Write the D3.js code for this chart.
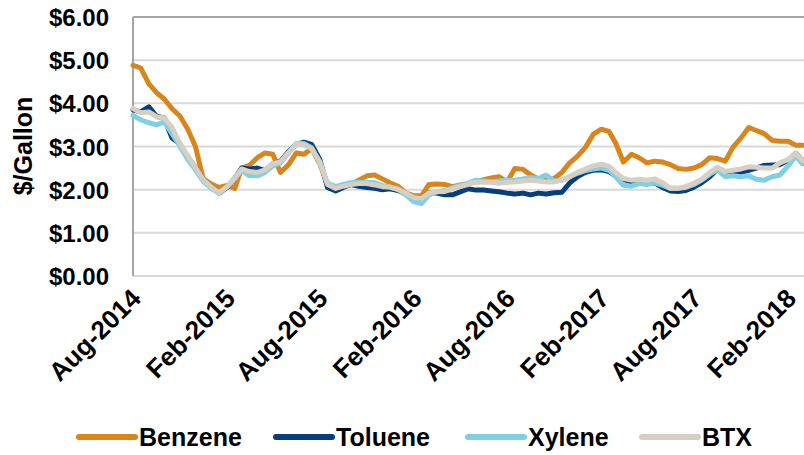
<!DOCTYPE html>
<html>
<head>
<meta charset="utf-8">
<script src="https://cdn.jsdelivr.net/npm/d3@7"></script>
<style>
  body { margin: 0; background: #fff; }
  svg { display: block; font-family: "Liberation Sans", Arial, sans-serif; font-weight: bold; }
</style>
</head>
<body>
<div id="chart"></div>
<script>
// half-monthly sample dates
const dates = [
  "2014-08-01","2014-08-16","2014-09-01","2014-09-16","2014-10-01","2014-10-16","2014-11-01","2014-11-16",
  "2014-12-01","2014-12-16","2015-01-01","2015-01-16","2015-02-01","2015-02-16","2015-03-01","2015-03-16",
  "2015-04-01","2015-04-16","2015-05-01","2015-05-16","2015-06-01","2015-06-16","2015-07-01","2015-07-16",
  "2015-08-01","2015-08-16","2015-09-01","2015-09-16","2015-10-01","2015-10-16","2015-11-01","2015-11-16",
  "2015-12-01","2015-12-16","2016-01-01","2016-01-16","2016-02-01","2016-02-16","2016-03-01","2016-03-16",
  "2016-04-01","2016-04-16","2016-05-01","2016-05-16","2016-06-01","2016-06-16","2016-07-01","2016-07-16",
  "2016-08-01","2016-08-16","2016-09-01","2016-09-16","2016-10-01","2016-10-16","2016-11-01","2016-11-16",
  "2016-12-01","2016-12-16","2017-01-01","2017-01-16","2017-02-01","2017-02-16","2017-03-01","2017-03-16",
  "2017-04-01","2017-04-16","2017-05-01","2017-05-16","2017-06-01","2017-06-16","2017-07-01","2017-07-16",
  "2017-08-01","2017-08-16","2017-09-01","2017-09-16","2017-10-01","2017-10-16","2017-11-01","2017-11-16",
  "2017-12-01","2017-12-16","2018-01-01","2018-01-16","2018-02-01","2018-02-16","2018-03-01"
];

const benzene = [
  4.88,4.82,4.45,4.25,4.10,3.88,3.70,3.40,3.00,2.26,2.13,2.05,2.10,2.03,2.50,2.56,
  2.74,2.85,2.82,2.40,2.58,2.85,2.82,2.95,2.60,2.12,2.05,2.08,2.12,2.22,2.32,2.34,
  2.25,2.16,2.08,1.92,1.86,1.86,2.12,2.13,2.12,2.07,2.11,2.14,2.18,2.23,2.27,2.30,
  2.18,2.49,2.47,2.34,2.25,2.22,2.26,2.40,2.62,2.77,2.98,3.28,3.40,3.35,3.08,2.64,
  2.82,2.74,2.62,2.66,2.64,2.58,2.49,2.47,2.50,2.58,2.74,2.72,2.66,2.98,3.20,3.44,
  3.37,3.30,3.14,3.12,3.12,3.03,3.03
];

const toluene = [
  3.85,3.80,3.92,3.70,3.66,3.20,3.05,2.75,2.52,2.24,2.06,1.92,2.05,2.26,2.50,2.48,
  2.50,2.44,2.60,2.66,2.88,3.05,3.10,3.05,2.70,2.05,1.97,2.05,2.12,2.08,2.05,2.03,
  2.00,2.02,1.98,1.90,1.82,1.80,1.92,1.92,1.88,1.88,1.95,2.02,1.99,1.99,1.97,1.95,
  1.92,1.90,1.92,1.88,1.92,1.90,1.93,1.94,2.15,2.30,2.40,2.45,2.46,2.42,2.32,2.24,
  2.18,2.20,2.14,2.16,2.05,1.97,1.96,1.98,2.06,2.16,2.30,2.48,2.35,2.38,2.40,2.45,
  2.50,2.56,2.57,2.58,2.68,2.84,2.68
];

const xylene = [
  3.72,3.62,3.55,3.50,3.57,3.30,3.00,2.70,2.46,2.20,2.03,1.92,2.07,2.28,2.45,2.32,
  2.32,2.40,2.55,2.62,2.85,3.07,3.07,2.97,2.62,2.15,2.07,2.12,2.16,2.17,2.17,2.16,
  2.10,2.06,2.00,1.88,1.72,1.68,1.88,1.95,1.98,2.04,2.10,2.14,2.22,2.20,2.18,2.20,
  2.22,2.22,2.25,2.28,2.26,2.34,2.20,2.22,2.30,2.38,2.44,2.48,2.50,2.45,2.30,2.10,
  2.08,2.14,2.12,2.16,2.10,2.03,2.03,2.05,2.12,2.22,2.36,2.46,2.30,2.32,2.30,2.32,
  2.24,2.22,2.30,2.34,2.55,2.78,2.60
];

const btx = [
  3.88,3.78,3.80,3.69,3.66,3.45,3.06,2.78,2.52,2.24,2.06,1.93,2.07,2.26,2.48,2.42,
  2.40,2.46,2.60,2.65,2.86,3.05,3.04,2.95,2.65,2.12,2.03,2.08,2.12,2.14,2.14,2.11,
  2.07,2.06,2.01,1.92,1.82,1.80,1.92,1.95,1.96,2.02,2.07,2.12,2.18,2.17,2.17,2.15,
  2.17,2.18,2.20,2.22,2.20,2.18,2.18,2.22,2.30,2.40,2.48,2.55,2.59,2.54,2.40,2.26,
  2.22,2.24,2.22,2.25,2.16,2.03,2.03,2.07,2.15,2.24,2.40,2.52,2.42,2.45,2.48,2.53,
  2.52,2.50,2.50,2.62,2.70,2.84,2.68
];

const seriesNames = ["Benzene", "Toluene", "Xylene", "BTX"];
const seriesColors = ["#D8861C", "#073F7E", "#7FD0E3", "#D7CFC3"];
const yTicks = [0, 1, 2, 3, 4, 5, 6];
const xTickDates = ["2014-08-01","2015-02-01","2015-08-01","2016-02-01","2016-08-01","2017-02-01","2017-08-01","2018-02-01"];

const w = 804, h = 455;
const margin = { top: 17, right: 0, bottom: 179, left: 133 };

const parse = d3.timeParse("%Y-%m-%d");
const fmt = d3.timeFormat("%b-%Y");

const svg = d3.select("#chart").append("svg")
    .attr("width", w)
    .attr("height", h);

const x = d3.scaleTime()
    .domain([new Date(2014, 7, 1), new Date(2018, 2, 4)])
    .range([margin.left, w - margin.right]);

const y = d3.scaleLinear()
    .domain([0, 6])
    .range([h - margin.bottom, margin.top]);

// gridlines
svg.append("g")
    .selectAll("line")
    .data(yTicks.filter(d => d > 0 && d < 6))
    .join("line")
    .attr("x1", margin.left)
    .attr("x2", w - margin.right)
    .attr("y1", d => y(d))
    .attr("y2", d => y(d))
    .attr("stroke", "#D9D9D9")
    .attr("stroke-width", 2);

// plot frame
svg.append("line")
    .attr("x1", margin.left).attr("x2", w)
    .attr("y1", y(6)).attr("y2", y(6))
    .attr("stroke", "#A6A6A6").attr("stroke-width", 2);
svg.append("line")
    .attr("x1", margin.left).attr("x2", w)
    .attr("y1", y(0)).attr("y2", y(0))
    .attr("stroke", "#D9D9D9").attr("stroke-width", 2);
svg.append("line")
    .attr("x1", margin.left).attr("x2", margin.left)
    .attr("y1", y(6)).attr("y2", y(0))
    .attr("stroke", "#A6A6A6").attr("stroke-width", 2);

// y axis labels
const yAxis = d3.axisLeft(y)
    .tickValues(yTicks)
    .tickSize(0)
    .tickPadding(24)
    .tickFormat(d => "$" + d3.format(".2f")(d));

svg.append("g")
    .attr("transform", `translate(${margin.left},0)`)
    .call(yAxis)
    .call(g => g.select(".domain").remove())
    .selectAll("text")
    .attr("font-family", "Liberation Sans, Arial, sans-serif")
    .attr("font-weight", "bold")
    .attr("font-size", 24)
    .attr("fill", "#000")
    .attr("dy", "0.36em");

svg.append("text")
    .attr("transform", `translate(32, 146) rotate(-90)`)
    .attr("text-anchor", "middle")
    .attr("font-size", 25)
    .text("$/Gallon");

// x axis labels
const xAxis = d3.axisBottom(x)
    .tickValues(xTickDates.map(parse))
    .tickSize(0)
    .tickPadding(0)
    .tickFormat(fmt);

svg.append("g")
    .attr("transform", `translate(0,${y(0)})`)
    .call(xAxis)
    .call(g => g.select(".domain").remove())
    .selectAll("text")
    .attr("font-family", "Liberation Sans, Arial, sans-serif")
    .attr("font-weight", "bold")
    .attr("font-size", 26)
    .attr("fill", "#000")
    .attr("text-anchor", "end")
    .attr("dy", 0)
    .attr("y", 0)
    .attr("transform", "translate(9,24) rotate(-45)");

// lines
const allSeries = [benzene, toluene, xylene, btx];
const line = d3.line()
    .x((d, i) => x(parse(dates[i])))
    .y(d => y(d));

svg.append("g")
    .selectAll("path")
    .data(allSeries)
    .join("path")
    .attr("d", d => line(d))
    .attr("fill", "none")
    .attr("stroke", (d, i) => seriesColors[i])
    .attr("stroke-width", 5)
    .attr("stroke-linejoin", "round")
    .attr("stroke-linecap", "round");

// legend
const legendX = [79, 276, 468, 642];
const legend = svg.append("g")
    .selectAll("g")
    .data(seriesNames)
    .join("g")
    .attr("transform", (d, i) => `translate(${legendX[i]}, 437)`);

legend.append("line")
    .attr("x1", 0).attr("x2", 56)
    .attr("stroke", (d, i) => seriesColors[i])
    .attr("stroke-width", 6)
    .attr("stroke-linecap", "round");

legend.append("text")
    .attr("x", 60)
    .attr("dy", "0.36em")
    .attr("font-size", 25)
    .text(d => d);
</script>
</body>
</html>
